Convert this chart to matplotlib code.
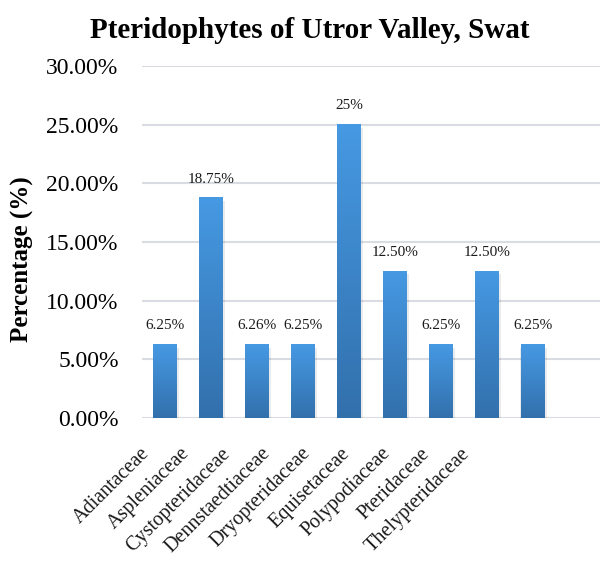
import matplotlib
matplotlib.use("Agg")
import matplotlib.pyplot as plt
import numpy as np
from matplotlib.colors import LinearSegmentedColormap

categories = ["Adiantaceae", "Aspleniaceae", "Cystopteridaceae", "Dennstaedtiaceae",
              "Dryopteridaceae", "Equisetaceae", "Polypodiaceae", "Pteridaceae",
              "Thelypteridaceae"]
values = [6.25, 18.75, 6.26, 6.25, 25.0, 12.50, 6.25, 12.50, 6.25]
value_labels = ["6.25%", "18.75%", "6.26%", "6.25%", "25%", "12.50%", "6.25%", "12.50%", "6.25%"]
yticks = [0, 5, 10, 15, 20, 25, 30]
ytick_labels = ["0.00%", "5.00%", "10.00%", "15.00%", "20.00%", "25.00%", "30.00%"]

plt.rcParams['font.family'] = ['Liberation Serif', 'DejaVu Serif']

fig = plt.figure(figsize=(6.0, 5.63), dpi=100)
ax = fig.add_axes([0.237, 0.2575, 0.763, 0.6253])

x = np.arange(len(categories))
width = 0.52
cmap = LinearSegmentedColormap.from_list("g", ["#3270ac", "#4699e3"])
grad = np.linspace(0, 1, 256).reshape(-1, 1)

bars = ax.bar(x, values, width=width, color="none", zorder=3)
for b, v in zip(bars, values):
    x0 = b.get_x()
    # subtle shadow
    ax.bar(x0 + width / 2 + 0.02, v, width=width + 0.06, bottom=-0.25,
           color="#000000", alpha=0.08, zorder=2)
    ax.imshow(grad, extent=[x0, x0 + width, 0, v], origin="lower", cmap=cmap,
              aspect="auto", zorder=3)

for xi, v, lab in zip(x, values, value_labels):
    ax.text(xi, v + 1.6, lab, ha="center", va="center", fontsize=11, color="#1a1a1a")

ax.set_xlim(-0.5, 9.46)
ax.set_ylim(0, 30)
ax.set_yticks(yticks)
ax.set_yticklabels(ytick_labels, fontsize=17)
ax.set_xticks(x)
ax.set_xticklabels([])
ax.tick_params(axis="both", length=0)
ax.tick_params(axis="y", pad=17)

# category labels (slightly compressed spacing as in the reference)
trans = ax.get_xaxis_transform()
for i, cat in enumerate(categories):
    ax.text(-0.39 + 0.87 * i, -0.093, cat, transform=trans, fontsize=14.5,
            rotation=45, ha="right", va="center", rotation_mode="anchor",
            color="#1a1a1a")

ax.yaxis.grid(True, color="#d9dde3", linewidth=1.5, zorder=0)
ax.set_axisbelow(True)
for s in ax.spines.values():
    s.set_visible(False)

fig.text(22 / 600, 1 - 259 / 563, "Percentage (%)", rotation=90, ha="center",
         va="center", fontsize=18, fontweight="bold")
fig.text(310 / 600, 1 - 30 / 563, "Pteridophytes of Utror Valley, Swat", ha="center",
         va="center", fontsize=21, fontweight="bold")

fig.savefig("out.png", dpi=100, facecolor="white")
